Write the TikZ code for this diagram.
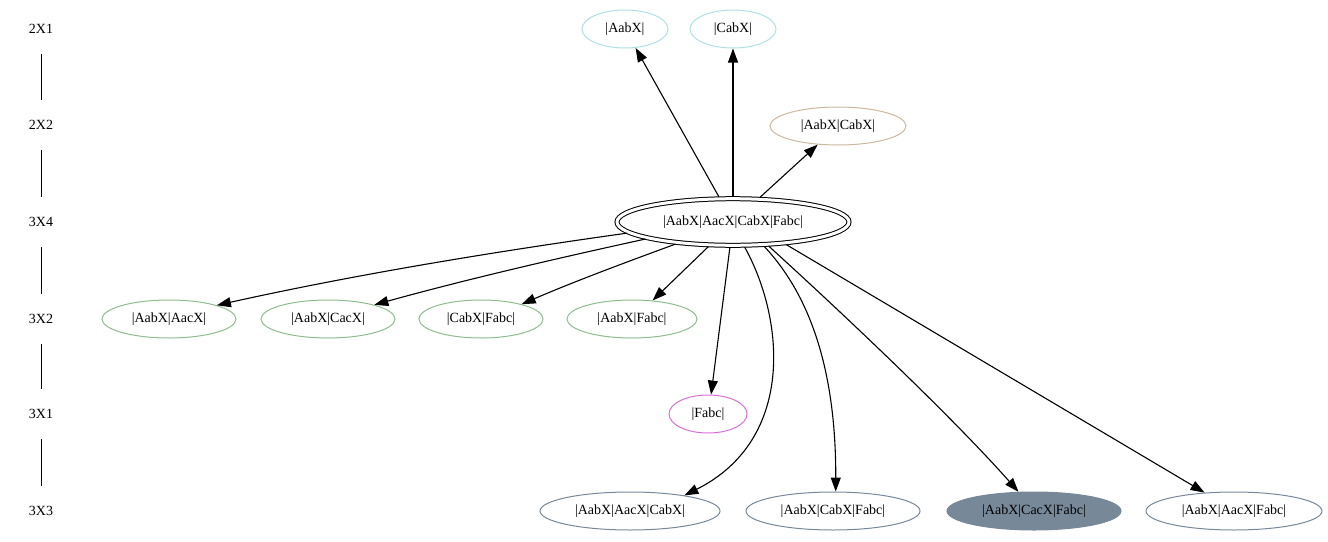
\documentclass[tikz,border=0pt]{standalone}
\usepackage{fontspec}
\setmainfont{Liberation Serif}
\usetikzlibrary{arrows.meta,shapes.geometric}
\definecolor{topc}{HTML}{B0E0E6}
\definecolor{tanc}{HTML}{CDB79E}
\definecolor{greenc}{HTML}{8FBC8F}
\definecolor{orchidc}{HTML}{DA70D6}
\definecolor{slatec}{HTML}{778899}
\begin{document}
\begin{tikzpicture}[x=1pt,y=-1pt,
  every node/.style={font=\fontsize{14}{16}\selectfont},
  rank/.style={inner sep=0pt,minimum height=50pt},
  rankline/.style={line width=1pt},
  nd/.style={ellipse,draw,inner sep=0pt,minimum height=38pt,line width=1pt},
  edge/.style={line width=1.1pt,-{Triangle[length=14pt,width=10pt]}}]
\useasboundingbox (0,0) rectangle (1328,541);
% rank labels
\node[rank] (r1) at (41,29) {2X1};
\node[rank] (r2) at (41,125) {2X2};
\node[rank] (r3) at (41,222) {3X4};
\node[rank] (r4) at (41,319) {3X2};
\node[rank] (r5) at (41,414) {3X1};
\node[rank] (r6) at (41,511) {3X3};
\draw[rankline] (r1) -- (r2);
\draw[rankline] (r2) -- (r3);
\draw[rankline] (r3) -- (r4);
\draw[rankline] (r4) -- (r5);
\draw[rankline] (r5) -- (r6);
% nodes
\node[nd,draw=topc,minimum width=86pt] (aabx) at (625,29) {|AabX|};
\node[nd,draw=topc,minimum width=86pt] (cabx) at (733,29) {|CabX|};
\node[nd,draw=tanc,minimum width=136pt] (aabxcabx) at (838,126) {|AabX|CabX|};
\node[ellipse,draw,double,double distance=3pt,line width=1pt,inner sep=0pt,
  minimum width=232pt,minimum height=46.6pt,outer sep=2pt] (main) at (733,222) {|AabX|AacX|CabX|Fabc|};
\node[nd,draw=greenc,minimum width=134pt] (g1) at (169,319) {|AabX|AacX|};
\node[nd,draw=greenc,minimum width=134pt] (g2) at (328,319) {|AabX|CacX|};
\node[nd,draw=greenc,minimum width=124pt] (g3) at (481,319) {|CabX|Fabc|};
\node[nd,draw=greenc,minimum width=130pt] (g4) at (632,319) {|AabX|Fabc|};
\node[nd,draw=orchidc,minimum width=78pt] (fabc) at (708,414) {|Fabc|};
\node[nd,draw=slatec,minimum width=180pt] (s1) at (630,511) {|AabX|AacX|CabX|};
\node[nd,draw=slatec,minimum width=174pt] (s2) at (833,511) {|AabX|CabX|Fabc|};
\node[nd,draw=slatec,fill=slatec,minimum width=174pt] (s3) at (1034,511) {|AabX|CacX|Fabc|};
\node[nd,draw=slatec,minimum width=176pt] (s4) at (1234,511) {|AabX|AacX|Fabc|};
% edges
\draw[edge] (main) -- (aabx);
\draw[edge] (main) -- (cabx);
\draw[edge] (main) -- (aabxcabx);
\draw[edge] (main.186.6) .. controls (492,252) and (353,275) .. (g1.16.9);
\draw[edge] (main.191.6) .. controls (554,259) and (464,280) .. (g2.17.3);
\draw[edge] (main.201.6) .. controls (624,263) and (573,282) .. (g3.20);
\draw[edge] (main.225) -- (g4.42);
\draw[edge] (main.263) -- (fabc.81);
\draw[edge] (main.295.6) .. controls (785,320) and (795,440) .. (s1.16.9);
\draw[edge] (main.322) .. controls (805,290) and (836,360) .. (s2.82);
\draw[edge] (main.326) .. controls (850,320) and (955,420) .. (s3.129);
\draw[edge] (main.337) -- (s4.148.5);
\end{tikzpicture}
\end{document}
